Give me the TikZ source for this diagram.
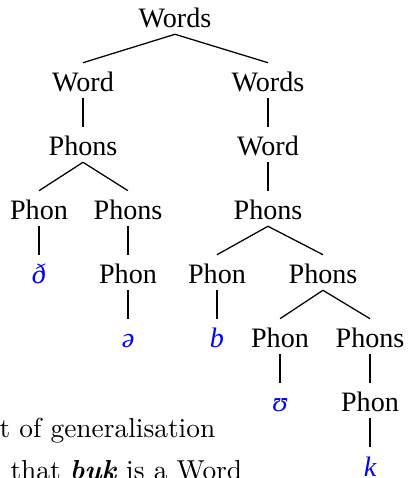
\documentclass[tikz,border=0pt]{standalone}
\usepackage{fontspec}
\newfontfamily\treefont{Liberation Serif}
\usepackage{tikz}
\definecolor{segblue}{HTML}{0000FF}

\begin{document}
\begin{tikzpicture}[
  cat/.style={anchor=base, inner xsep=2pt, inner ysep=0.05cm, text height=0.675cm,
              text depth=0.10cm, font=\treefont\fontsize{20}{24}\selectfont},
  seg/.style={cat, text=segblue, font=\treefont\itshape\fontsize{20}{24}\selectfont},
  edge/.style={line width=0.9pt},
  prose/.style={anchor=base west, inner sep=0pt, font=\normalsize, scale=1.95,
                transform shape},
]
\useasboundingbox (0, 0) rectangle (10.175, 11.95);

\node[cat] (w1) at (4.375, 11.25) {Words};
\node[cat] (w2) at (2.075, 9.65) {Word};
\node[cat] (w3) at (6.700, 9.65) {Words};
\node[cat] (p1) at (2.075, 8.05) {Phons};
\node[cat] (w4) at (6.700, 8.05) {Word};
\node[cat] (p2) at (0.975, 6.45) {Phon};
\node[cat] (p3) at (3.200, 6.45) {Phons};
\node[cat] (p4) at (6.700, 6.45) {Phons};
\node[seg] (s1) at (0.975, 4.85) {ð};
\node[cat] (p5) at (3.200, 4.85) {Phon};
\node[cat] (p6) at (5.425, 4.85) {Phon};
\node[cat] (p7) at (8.075, 4.85) {Phons};
\node[seg] (s2) at (3.200, 3.25) {ə};
\node[seg] (s3) at (5.425, 3.25) {b};
\node[cat] (p8) at (7.000, 3.25) {Phon};
\node[cat] (p9) at (9.250, 3.25) {Phons};
\node[seg] (s4) at (7.000, 1.65) {ʊ};
\node[cat] (p10) at (9.250, 1.65) {Phon};
\node[seg] (s5) at (9.250, 0.05) {k};

\draw[edge] (w1.south) -- (w2.north);
\draw[edge] (w1.south) -- (w3.north);
\draw[edge] (w2.south) -- (p1.north);
\draw[edge] (w3.south) -- (w4.north);
\draw[edge] (p1.south) -- (p2.north);
\draw[edge] (p1.south) -- (p3.north);
\draw[edge] (w4.south) -- (p4.north);
\draw[edge] (p2.south) -- (s1.north);
\draw[edge] (p3.south) -- (p5.north);
\draw[edge] (p4.south) -- (p6.north);
\draw[edge] (p4.south) -- (p7.north);
\draw[edge] (p5.south) -- (s2.north);
\draw[edge] (p6.south) -- (s3.north);
\draw[edge] (p7.south) -- (p8.north);
\draw[edge] (p7.south) -- (p9.north);
\draw[edge] (p8.south) -- (s4.north);
\draw[edge] (p9.south) -- (p10.north);
\draw[edge] (p10.south) -- (s5.north);

\node[prose] (line1) at (-0.025, 1.0) {t of generalisation};
\node[prose] (line2) at (0.25, -0.025) {that \textbf{\textit{buk}} is a Word};

\end{tikzpicture}
\end{document}
